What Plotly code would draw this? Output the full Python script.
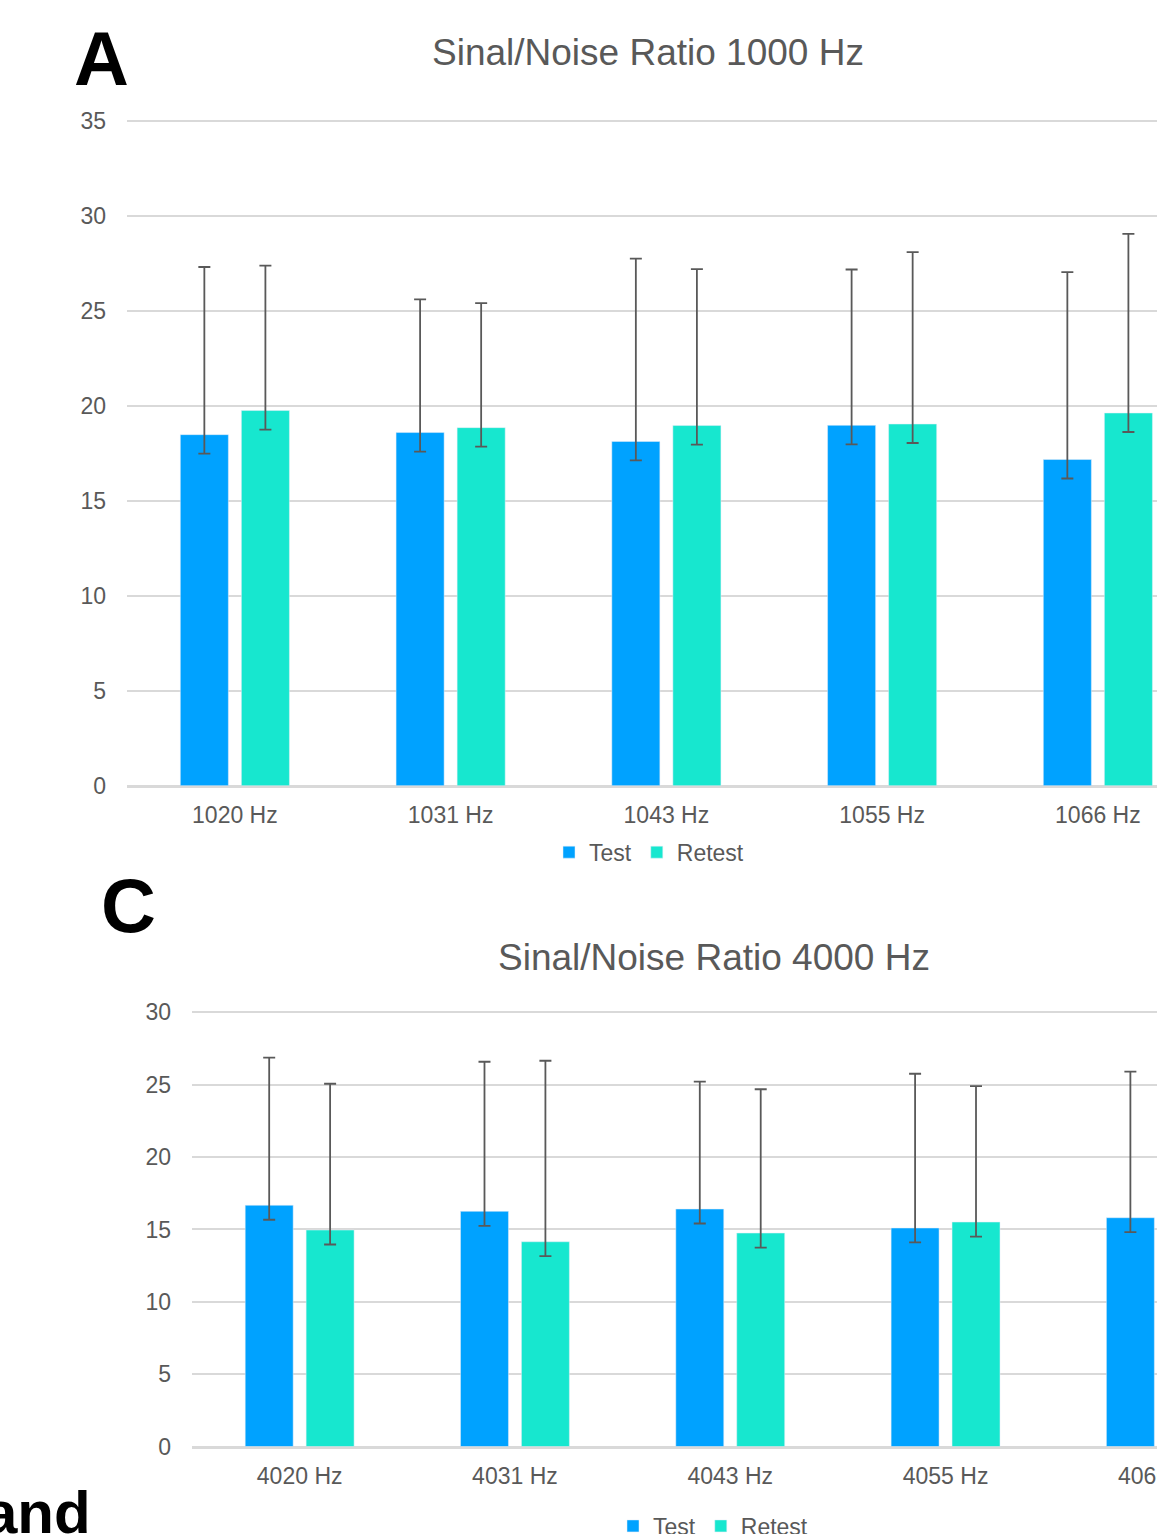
import plotly.graph_objects as go

# ---------------- data ----------------
cats_a = ["1020 Hz", "1031 Hz", "1043 Hz", "1055 Hz", "1066 Hz"]
test_a = [18.49, 18.60, 18.13, 18.98, 17.18]
test_a_plus = [8.83, 7.02, 9.63, 8.21, 9.87]
test_a_minus = [1.0, 1.0, 1.0, 1.0, 1.0]
retest_a = [19.76, 18.86, 18.97, 19.05, 19.63]
retest_a_plus = [7.63, 6.56, 8.24, 9.05, 9.44]
retest_a_minus = [1.0, 1.0, 1.0, 1.0, 1.0]

cats_c = ["4020 Hz", "4031 Hz", "4043 Hz", "4055 Hz", "4066 Hz"]
test_c = [16.67, 16.25, 16.41, 15.10, 15.81]
test_c_plus = [10.20, 10.34, 8.80, 10.66, 10.09]
test_c_minus = [1.0, 1.0, 1.0, 1.0, 1.0]
retest_c = [14.96, 14.15, 14.75, 15.51, None]
retest_c_plus = [10.11, 12.51, 9.94, 9.40, None]
retest_c_minus = [1.0, 1.0, 1.0, 1.0, None]

title_a = "Sinal/Noise Ratio 1000 Hz"
title_c = "Sinal/Noise Ratio 4000 Hz"
series_names = ["Test", "Retest"]

# ---------------- style ----------------
W, H = 1157, 1534
BLUE = "#00A2FF"
TEAL = "#17E7CF"
GREY = "#595959"
GRID = "#D9D9D9"
FONT = "Liberation Sans, Arial, sans-serif"


def px_x(p):
    return p / W


def px_y(p):
    return (H - p) / H


err_style = dict(type="data", symmetric=False, color=GREY, thickness=1.8, width=6)

fig = go.Figure()

fig.add_trace(go.Bar(x=cats_a, y=test_a, name=series_names[0], marker_color=BLUE,
                     error_y=dict(array=test_a_plus, arrayminus=test_a_minus, **err_style),
                     xaxis="x", yaxis="y", legend="legend"))
fig.add_trace(go.Bar(x=cats_a, y=retest_a, name=series_names[1], marker_color=TEAL,
                     error_y=dict(array=retest_a_plus, arrayminus=retest_a_minus, **err_style),
                     xaxis="x", yaxis="y", legend="legend"))
fig.add_trace(go.Bar(x=cats_c, y=test_c, name=series_names[0], marker_color=BLUE,
                     error_y=dict(array=test_c_plus, arrayminus=test_c_minus, **err_style),
                     xaxis="x2", yaxis="y2", legend="legend2"))
fig.add_trace(go.Bar(x=cats_c, y=retest_c, name=series_names[1], marker_color=TEAL,
                     error_y=dict(array=retest_c_plus, arrayminus=retest_c_minus, **err_style),
                     xaxis="x2", yaxis="y2", legend="legend2"))

tick_font = dict(family=FONT, size=23, color=GREY)

# axis geometry (pixels in the reference)
a_left, a_step = 127, 215.75
c_left, c_step = 192, 215.3
a_range = [-0.5, -0.5 + (W - a_left) / a_step]
c_range = [-0.5, -0.5 + (W - c_left) / c_step]

# y axes: pixel of zero and of top tick; range padded a hair so the top gridline is drawn
a_y0, a_ytop, a_ymax = 785.7, 121.2, 35
c_y0, c_ytop, c_ymax = 1446.5, 1012.4, 30
pad = 0.08
a_scale = (a_y0 - a_ytop) / a_ymax
c_scale = (c_y0 - c_ytop) / c_ymax

xcommon = dict(type="category", showgrid=False, showline=True, linecolor=GRID, linewidth=1.5,
               ticks="", tickfont=tick_font, ticklabelstandoff=8, fixedrange=True)
ycommon = dict(showgrid=True, gridcolor=GRID, gridwidth=1.5, zeroline=True, zerolinecolor=GRID,
               zerolinewidth=1.5, showline=False, ticks="", tickfont=tick_font, dtick=5,
               tick0=0, ticklabelstandoff=20, fixedrange=True)

legend_font = dict(family=FONT, size=23, color=GREY)

fig.update_layout(
    width=W, height=H,
    margin=dict(l=0, r=0, t=0, b=0, autoexpand=False),
    paper_bgcolor="white", plot_bgcolor="white",
    barmode="group", bargap=0.434, bargroupgap=0.213,
    xaxis=dict(domain=[px_x(a_left), 1], range=a_range, categoryorder="array",
               categoryarray=cats_a, anchor="y", **xcommon),
    yaxis=dict(domain=[px_y(a_y0), px_y(a_y0 - (a_ymax + pad) * a_scale)],
               range=[0, a_ymax + pad], anchor="x", **ycommon),
    xaxis2=dict(domain=[px_x(c_left), 1], range=c_range, categoryorder="array",
                categoryarray=cats_c, anchor="y2", **xcommon),
    yaxis2=dict(domain=[px_y(c_y0), px_y(c_y0 - (c_ymax + pad) * c_scale)],
                range=[0, c_ymax + pad], anchor="x2", **ycommon),
    legend=dict(orientation="h", x=px_x(549), xanchor="left", y=px_y(852.2), yanchor="middle",
                font=legend_font, bgcolor="rgba(0,0,0,0)", itemwidth=30, tracegroupgap=0),
    legend2=dict(orientation="h", x=px_x(613), xanchor="left", y=px_y(1526), yanchor="middle",
                 font=legend_font, bgcolor="rgba(0,0,0,0)", itemwidth=30, tracegroupgap=0),
    showlegend=True,
)

# chart titles
fig.add_annotation(text=title_a, x=px_x(648), y=px_y(53), xref="paper", yref="paper",
                   xanchor="center", yanchor="middle", showarrow=False,
                   font=dict(family=FONT, size=37, color=GREY))
fig.add_annotation(text=title_c, x=px_x(713.5), y=px_y(958), xref="paper", yref="paper",
                   xanchor="center", yanchor="middle", showarrow=False,
                   font=dict(family=FONT, size=37, color=GREY))

# last (cut-off) category label of chart C, positioned via the axis scale
c_dom = fig.layout.xaxis2.domain
last_idx = len(cats_c) - 1
last_x = c_dom[0] + (last_idx - c_range[0]) / (c_range[1] - c_range[0]) * (c_dom[1] - c_dom[0])
fig.add_annotation(text=cats_c[last_idx], x=last_x, y=px_y(c_y0), xref="paper", yref="paper",
                   xanchor="center", yanchor="top", yshift=-14, showarrow=False,
                   font=tick_font)

# panel letters
bold = dict(family="Liberation Sans, Arial, sans-serif", size=76, color="black")
fig.add_annotation(text="<b>A</b>", x=px_x(72), y=px_y(14), xref="paper", yref="paper",
                   xanchor="left", yanchor="top", showarrow=False, font=bold)
fig.add_annotation(text="<b>C</b>", x=px_x(99), y=px_y(861), xref="paper", yref="paper",
                   xanchor="left", yanchor="top", showarrow=False, font=bold)
fig.add_annotation(text="<b>and</b>", x=px_x(93), y=px_y(1477), xref="paper", yref="paper",
                   xanchor="right", yanchor="top", showarrow=False,
                   font=dict(family="Liberation Sans, Arial, sans-serif", size=60, color="black"))

fig.write_html("out.html", config={"displayModeBar": False},
               post_script="document.body.style.margin='0';")
